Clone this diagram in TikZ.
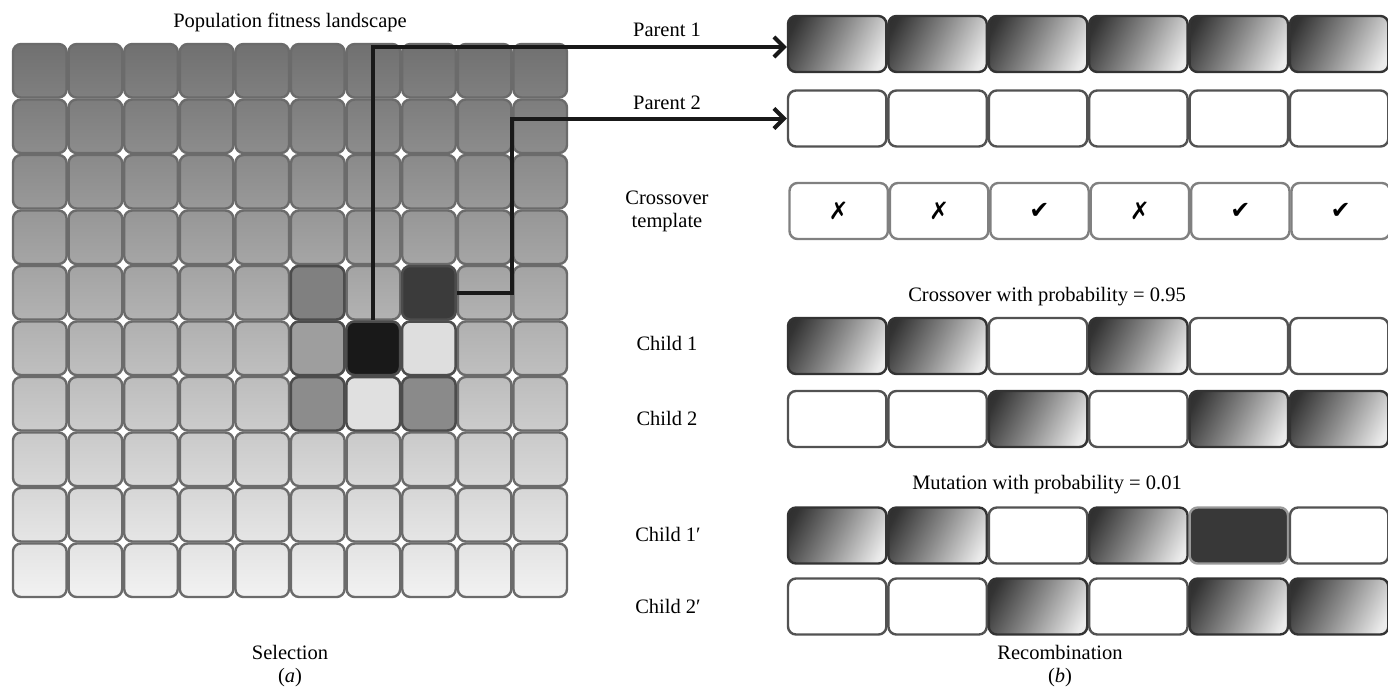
\documentclass[tikz,border=0pt]{standalone}
\usepackage{fontspec}
\setmainfont{Liberation Serif}
\newfontfamily\symfont{DejaVu Sans}
\usetikzlibrary{arrows.meta}
\pgfdeclareverticalshading{boxshade}{100bp}{color(0bp)=(black!3); color(22bp)=(black!8); color(50bp)=(black!45); color(78bp)=(black!80); color(100bp)=(black!88)}
\begin{document}
\begin{tikzpicture}[x=1pt,y=-1pt,
  lbl/.style={font=\fontsize{20.5}{23}\selectfont, inner sep=0pt, align=center},
  gridcell/.style={draw=black!58, line width=2.4pt, rounded corners=8pt},
  hcell/.style={draw=black!70, line width=2.4pt, rounded corners=8pt, minimum width=53.5pt, minimum height=53.4pt, inner sep=0pt},
  rbox/.style={line width=2.4pt, rounded corners=8pt, minimum width=98.4pt, minimum height=56pt, inner sep=0pt},
  gbox/.style={rbox, draw=black!80, shade, shading=boxshade, shading angle=62},
  wbox/.style={rbox, draw=black!68, fill=white},
  tbox/.style={rbox, draw=black!50, fill=white, font=\symfont\bfseries\fontsize{24}{24}\selectfont},
  mbox/.style={rbox, draw=black!40, fill=black!78},
  conn/.style={line width=4pt, draw=black!90, -{Straight Barb[length=10pt,width=20pt]}}
]
\useasboundingbox (0,0) rectangle (1388,689);
\clip (0,0) rectangle (1388,689);

% ---- grid (selection) ----
\foreach \r in {0,...,9}{
  \foreach \c in {0,...,9}{
    \pgfmathsetmacro{\tp}{56-5*\r}
    \pgfmathsetmacro{\bt}{50-5*\r}
    \shadedraw[gridcell, top color=black!\tp, bottom color=black!\bt]
      ({12+55.6*\c+1},{43+55.5*\r+1}) rectangle ({12+55.6*(\c+1)-1},{43+55.5*(\r+1)-1});
  }
}
% highlighted cells
\node[hcell, fill=black!50] (h45) at (317.6,292.75) {};
\node[hcell, fill=black!77] (sel2) at (428.8,292.75) {};
\node[hcell, fill=black!38] (h55) at (317.6,348.25) {};
\node[hcell, fill=black!90] (sel1) at (373.2,348.25) {};
\node[hcell, fill=black!13] (h57) at (428.8,348.25) {};
\node[hcell, fill=black!45] (h65) at (317.6,403.75) {};
\node[hcell, fill=black!12] (h66) at (373.2,403.75) {};
\node[hcell, fill=black!46] (h67) at (428.8,403.75) {};

% ---- right rows ----
\def\xs{837.2}
% Parent 1
\foreach \i in {1,...,6}{
  \node[gbox] (p1b\i) at ({\xs+100.4*(\i-1)},44) {};
}
% Parent 2
\foreach \i in {1,...,6}{
  \node[wbox] (p2b\i) at ({\xs+100.4*(\i-1)},118.5) {};
}
% Crossover template
\foreach \i/\s in {1/✗,2/✗,3/✔,4/✗,5/✔,6/✔}{
  \node[tbox] (tb\i) at ({\xs+1.5+100.4*(\i-1)},211) {\s};
}
% Child 1
\foreach \i/\t in {1/gbox,2/gbox,3/wbox,4/gbox,5/wbox,6/wbox}{
  \node[\t] (c1b\i) at ({\xs+100.4*(\i-1)},346) {};
}
% Child 2
\foreach \i/\t in {1/wbox,2/wbox,3/gbox,4/wbox,5/gbox,6/gbox}{
  \node[\t] (c2b\i) at ({\xs+100.4*(\i-1)},419) {};
}
% Child 1'
\foreach \i/\t in {1/gbox,2/gbox,3/wbox,4/gbox,5/mbox,6/wbox}{
  \node[\t] (m1b\i) at ({\xs+100.4*(\i-1)},535.5) {};
}
% Child 2'
\foreach \i/\t in {1/wbox,2/wbox,3/gbox,4/wbox,5/gbox,6/gbox}{
  \node[\t] (m2b\i) at ({\xs+100.4*(\i-1)},606.5) {};
}

% ---- connectors ----
\draw[conn] (sel1.north) |- ([yshift=-3pt]p1b1.west);
\draw[conn] (sel2.east) -- ++(55,0) |- (p2b1.west);

% ---- labels ----
\node[lbl] (ttl) at (290,22) {Population fitness landscape};
\node[lbl] (lp1) at (667,30) {Parent 1};
\node[lbl] (lp2) at (667,103) {Parent 2};
\node[lbl] (lct) at (667,211) {Crossover\\template};
\node[lbl] (lcp) at (1047,297) {Crossover with probability = 0.95};
\node[lbl] (lc1) at (667,343) {Child 1};
\node[lbl] (lc2) at (667,418) {Child 2};
\node[lbl] (lmp) at (1047,485) {Mutation with probability = 0.01};
\node[lbl] (lm1) at (668,534) {Child 1′};
\node[lbl] (lm2) at (668,606) {Child 2′};
\node[lbl] (lsel) at (290,666) {Selection\\(\textit{a})};
\node[lbl] (lrec) at (1060,666) {Recombination\\(\textit{b})};
\end{tikzpicture}
\end{document}
